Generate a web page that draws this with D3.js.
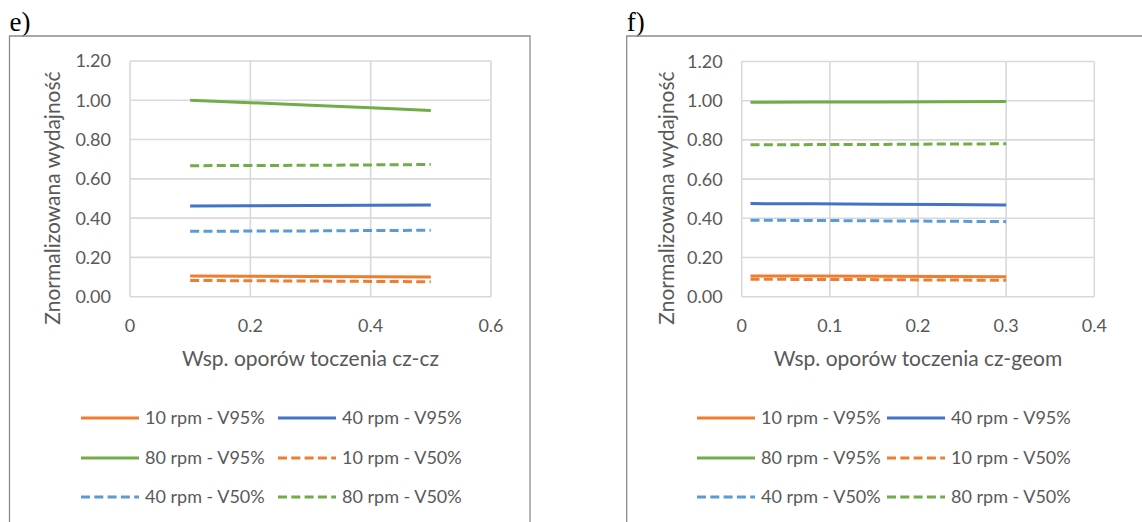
<!DOCTYPE html>
<html>
<head>
<meta charset="utf-8">
<script src="https://cdn.jsdelivr.net/npm/d3@7"></script>
<style>
  body { margin: 0; background: #fff; }
  svg { display: block; }
</style>
</head>
<body>
<script>
const width = 1142;
const height = 522;

// series labels (legend order)
const seriesNames = [
  '10 rpm - V95%', '40 rpm - V95%', '80 rpm - V95%',
  '10 rpm - V50%', '40 rpm - V50%', '80 rpm - V50%',
];

// y axis ticks
const yTicks = [0, 0.2, 0.4, 0.6, 0.8, 1.0, 1.2];

// chart e) - Wsp. oporow toczenia cz-cz
const xTicksE = [0, 0.2, 0.4, 0.6];
const xE = [0.1, 0.2, 0.3, 0.4, 0.5];
const e10V95 = [0.105, 0.104, 0.103, 0.102, 0.100];
const e40V95 = [0.462, 0.463, 0.464, 0.466, 0.467];
const e80V95 = [1.000, 0.988, 0.975, 0.962, 0.948];
const e10V50 = [0.083, 0.081, 0.080, 0.078, 0.076];
const e40V50 = [0.333, 0.334, 0.335, 0.337, 0.338];
const e80V50 = [0.667, 0.668, 0.669, 0.671, 0.673];

// chart f) - Wsp. oporow toczenia cz-geom
const xTicksF = [0, 0.1, 0.2, 0.3, 0.4];
const xF = [0.01, 0.08, 0.155, 0.23, 0.3];
const f10V95 = [0.106, 0.105, 0.104, 0.103, 0.102];
const f40V95 = [0.475, 0.474, 0.472, 0.470, 0.468];
const f80V95 = [0.992, 0.993, 0.994, 0.995, 0.996];
const f10V50 = [0.089, 0.088, 0.087, 0.085, 0.084];
const f40V50 = [0.390, 0.389, 0.387, 0.385, 0.383];
const f80V50 = [0.775, 0.776, 0.777, 0.779, 0.780];

// line styles, same order as seriesNames
const styles = [
  { color: '#ED7D31', dash: null },
  { color: '#4472C4', dash: null },
  { color: '#70AD47', dash: null },
  { color: '#ED7D31', dash: '9,4.3' },
  { color: '#5B9BD5', dash: '9,4.3' },
  { color: '#70AD47', dash: '9,4.3' },
];

const font = 'Lato, "Open Sans", sans-serif';
const textColor = '#595959';

const svg = d3.select('body')
  .append('svg')
  .attr('width', width)
  .attr('height', height);

svg.append('rect').attr('width', width).attr('height', height).attr('fill', '#fff');

function drawChart(cfg) {
  const g = svg.append('g');

  // panel letter
  g.append('text')
    .attr('x', cfg.frameX)
    .attr('y', 31)
    .style('font-family', '"Liberation Serif", "Times New Roman", serif')
    .style('font-size', '27px')
    .attr('fill', '#000')
    .text(cfg.letter);

  // outer frame (runs off the bottom edge)
  g.append('path')
    .attr('d', `M${cfg.frameX},${height + 5}V36H${cfg.frameR}V${height + 5}`)
    .attr('fill', 'none')
    .attr('stroke', '#8c8c8c')
    .attr('stroke-width', 1.3);

  const x = d3.scaleLinear().domain(cfg.xDomain).range([cfg.left, cfg.right]);
  const y = d3.scaleLinear().domain([0, 1.2]).range([cfg.bottom, cfg.top]);

  // gridlines
  g.append('g')
    .selectAll('line')
    .data(yTicks)
    .join('line')
    .attr('x1', cfg.left).attr('x2', cfg.right)
    .attr('y1', (d) => y(d)).attr('y2', (d) => y(d))
    .attr('stroke', '#d9d9d9').attr('stroke-width', 1.6);

  g.append('g')
    .selectAll('line')
    .data(cfg.xTicks)
    .join('line')
    .attr('x1', (d) => x(d)).attr('x2', (d) => x(d))
    .attr('y1', cfg.top).attr('y2', cfg.bottom)
    .attr('stroke', '#d9d9d9').attr('stroke-width', 1.6);

  // y tick labels
  g.append('g')
    .selectAll('text')
    .data(yTicks)
    .join('text')
    .attr('x', cfg.left - 19)
    .attr('y', (d) => y(d))
    .attr('dy', '0.36em')
    .attr('text-anchor', 'end')
    .style('font-family', font)
    .style('font-size', '18px')
    .attr('fill', textColor)
    .text((d) => d3.format('.2f')(d));

  // x tick labels
  g.append('g')
    .selectAll('text')
    .data(cfg.xTicks)
    .join('text')
    .attr('x', (d) => x(d))
    .attr('y', 332)
    .attr('text-anchor', 'middle')
    .style('font-family', font)
    .style('font-size', '18px')
    .attr('fill', textColor)
    .text((d) => (d === 0 ? '0' : d3.format('.1f')(d)));

  // axis titles
  g.append('text')
    .attr('x', (cfg.left + cfg.right) / 2)
    .attr('y', 366)
    .attr('text-anchor', 'middle')
    .style('font-family', font)
    .style('font-size', '21px')
    .attr('fill', textColor)
    .text(cfg.xTitle);

  g.append('text')
    .attr('transform', `translate(${cfg.yTitleX},198) rotate(-90)`)
    .attr('text-anchor', 'middle')
    .attr('dy', '0.35em')
    .style('font-family', font)
    .style('font-size', '21px')
    .attr('fill', textColor)
    .text('Znormalizowana wydajność');

  // series
  const line = d3.line().x((d) => x(d[0])).y((d) => y(d[1]));
  cfg.series.forEach((vals, i) => {
    const pts = cfg.xs.map((xv, j) => [xv, vals[j]]);
    g.append('path')
      .datum(pts)
      .attr('d', line)
      .attr('fill', 'none')
      .attr('stroke', styles[i].color)
      .attr('stroke-width', 3)
      .attr('stroke-dasharray', styles[i].dash);
  });

  // legend: 2 columns, 3 rows
  const rowsY = [418, 458, 497];
  seriesNames.forEach((name, i) => {
    const col = i % 2;
    const row = Math.floor(i / 2);
    const lx = cfg.legendX[col];
    const ly = rowsY[row];
    g.append('line')
      .attr('x1', lx).attr('x2', lx + 58)
      .attr('y1', ly).attr('y2', ly)
      .attr('stroke', styles[i].color)
      .attr('stroke-width', 3)
      .attr('stroke-dasharray', styles[i].dash);
    g.append('text')
      .attr('x', lx + 64)
      .attr('y', ly)
      .attr('dy', '0.36em')
      .style('font-family', font)
      .style('font-size', '18px')
      .attr('fill', textColor)
      .text(name);
  });
}

drawChart({
  letter: 'e)',
  frameX: 9.5,
  frameR: 530,
  left: 130, right: 491, top: 61, bottom: 296.7,
  xDomain: [0, 0.6],
  xTicks: xTicksE,
  xs: xE,
  series: [e10V95, e40V95, e80V95, e10V50, e40V50, e80V50],
  xTitle: 'Wsp. oporów toczenia cz-cz',
  yTitleX: 53,
  legendX: [81, 278],
});

drawChart({
  letter: 'f)',
  frameX: 626.7,
  frameR: 1150,
  left: 741.7, right: 1094.3, top: 61.5, bottom: 296.7,
  xDomain: [0, 0.4],
  xTicks: xTicksF,
  xs: xF,
  series: [f10V95, f40V95, f80V95, f10V50, f40V50, f80V50],
  xTitle: 'Wsp. oporów toczenia cz-geom',
  yTitleX: 667,
  legendX: [697, 887],
});
</script>
</body>
</html>
